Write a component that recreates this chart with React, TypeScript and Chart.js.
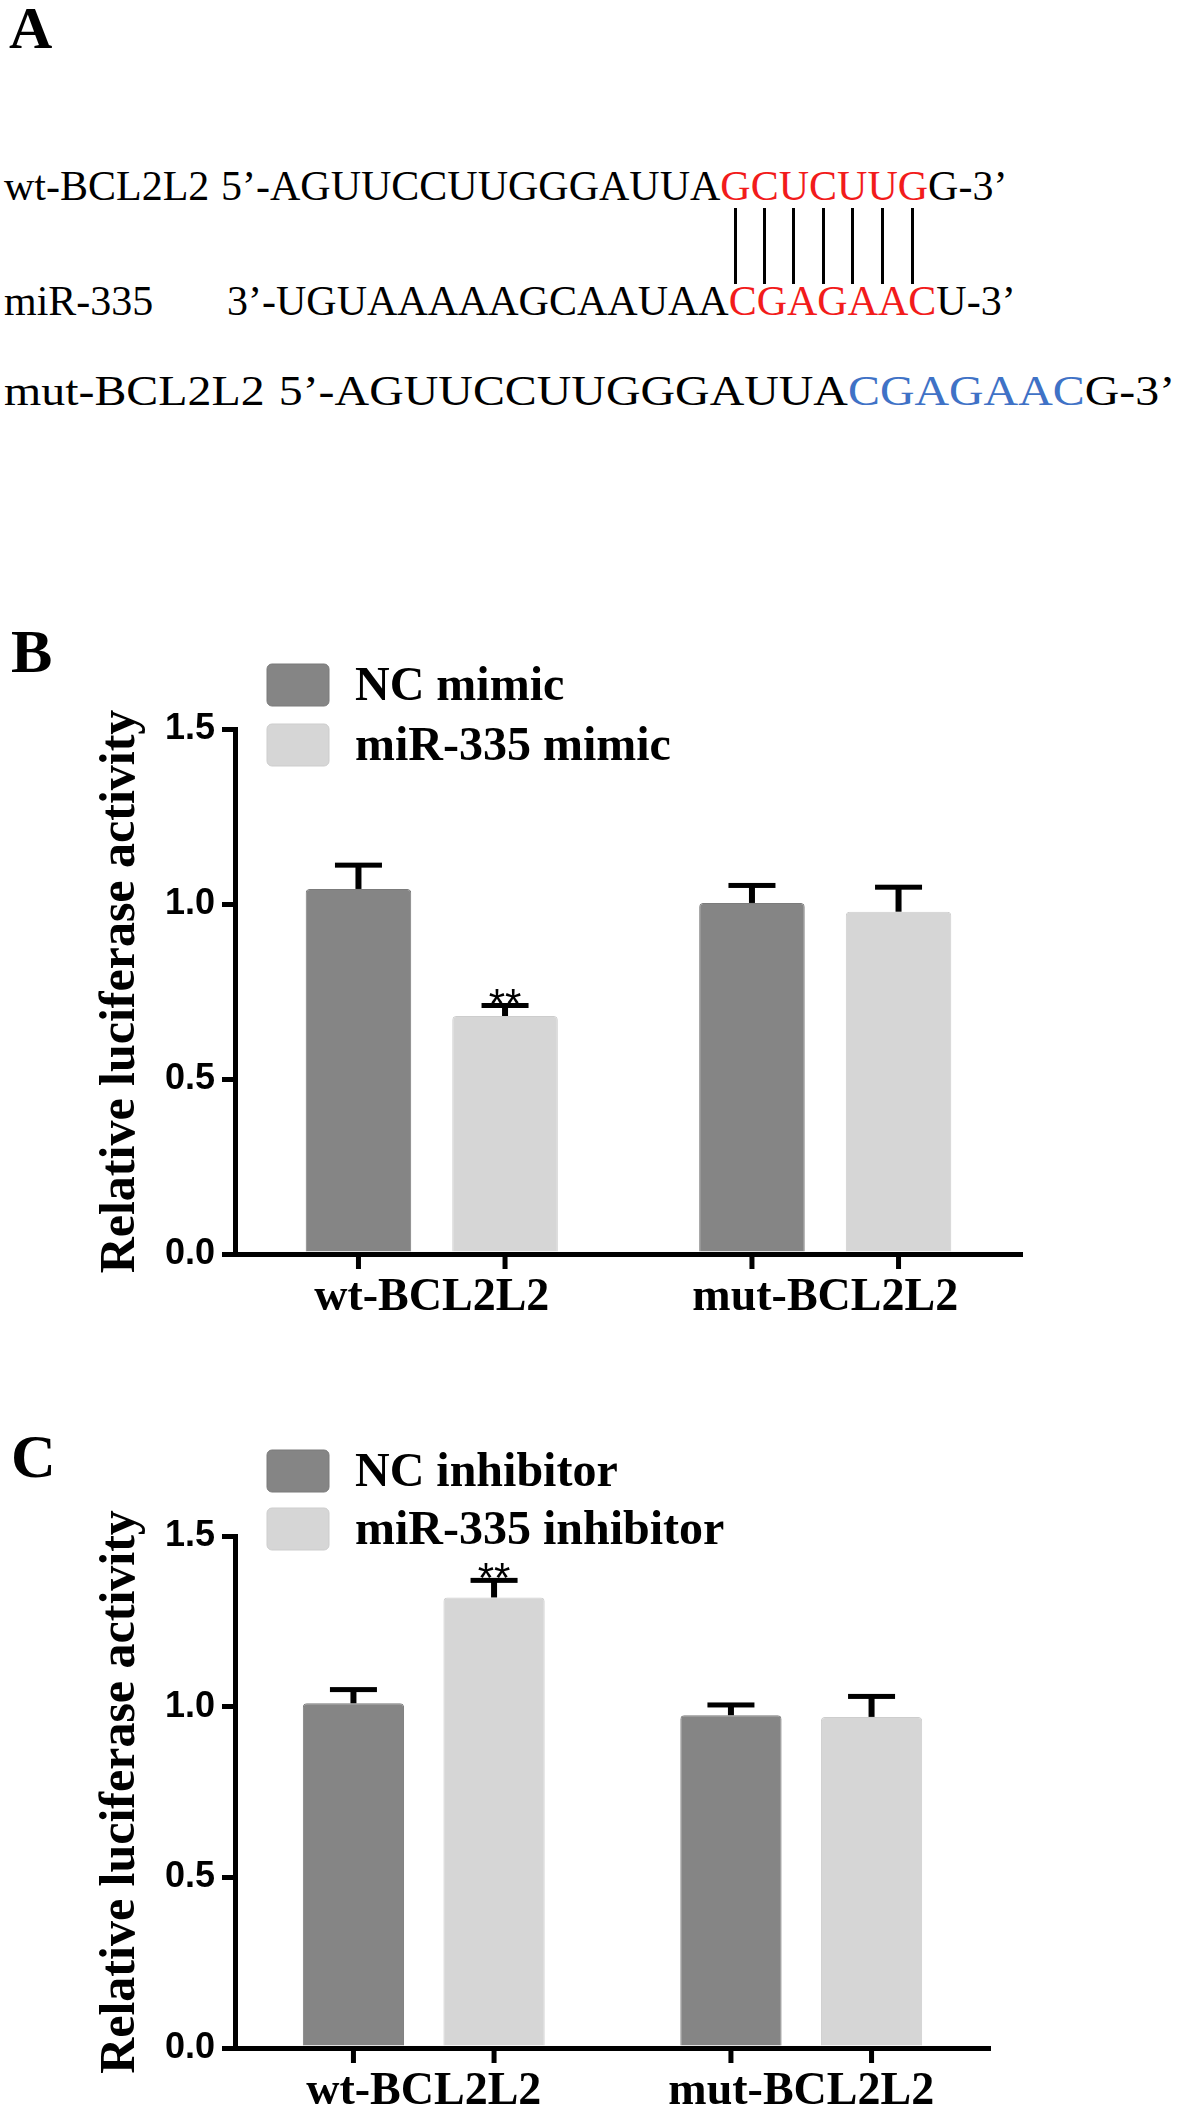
import React, { useEffect, useRef } from "react";
import { Chart, registerables } from "chart.js";

Chart.register(...registerables);

// ---------- data ----------
const categories = ["wt-BCL2L2", "mut-BCL2L2"];
const yTitle = "Relative luciferase activity";
const yTickStep = 0.5;
const yMax = 1.5;

// Panel B (mimic)
const mimicLabels = ["NC mimic", "miR-335 mimic"];
const ncMimic = [1.043, 1.003];
const ncMimicErr = [0.068, 0.05];
const mirMimic = [0.68, 0.978];
const mirMimicErr = [0.03, 0.07];
const ncMimicSig = ["", ""];
const mirMimicSig = ["**", ""];

// Panel C (inhibitor)
const inhibitorLabels = ["NC inhibitor", "miR-335 inhibitor"];
const ncInh = [1.01, 0.975];
const ncInhErr = [0.04, 0.03];
const mirInh = [1.32, 0.97];
const mirInhErr = [0.05, 0.06];
const ncInhSig = ["", ""];
const mirInhSig = ["**", ""];

// Panel A (sequences)
const wtLabel = "wt-BCL2L2";
const wtSeq = ["5\u2019-AGUUCCUUGGGAUUA", "GCUCUUG", "G-3\u2019"];
const mirLabel = "miR-335";
const mirSeq = ["3\u2019-UGUAAAAAGCAAUAA", "CGAGAAC", "U-3\u2019"];
const mutLabel = "mut-BCL2L2";
const mutSeq = ["5\u2019-AGUUCCUUGGGAUUA", "CGAGAAC", "G-3\u2019"];

// ---------- styles ----------
const serif = '"Liberation Serif", "Times New Roman", Times, serif';
const sans = '"Liberation Sans", Arial, Helvetica, sans-serif';
const DARK = "#858585";
const LIGHT = "#d6d6d6";
const DARK_EDGE = "#7b7b7b";
const LIGHT_EDGE = "#cdcdcd";

type PanelProps = {
  top: number;
  height: number;
  padTop: number;
  padRight: number;
  xHeight: number;
  labels: string[];
  s1: number[];
  e1: number[];
  s2: number[];
  e2: number[];
  sig1: string[];
  sig2: string[];
  legendTops: number[];
};

function BarPanel(p: PanelProps) {
  const ref = useRef<HTMLCanvasElement | null>(null);
  useEffect(() => {
    if (!ref.current) return;
    const errs = [p.e1, p.e2];
    const sigs = [p.sig1, p.sig2];
    const decor = {
      id: "decor",
      afterDatasetsDraw(chart: any) {
        const ctx = chart.ctx;
        const ys = chart.scales.y;
        ctx.save();
        ctx.fillStyle = "#000";
        chart.data.datasets.forEach((ds: any, di: number) => {
          const meta = chart.getDatasetMeta(di);
          meta.data.forEach((el: any, i: number) => {
            const v = ds.data[i];
            const top = ys.getPixelForValue(v + errs[di][i]);
            ctx.fillRect(el.x - 3, top, 6, el.y - top);
            ctx.fillRect(el.x - 23.5, top - 2.5, 47, 5);
            const s = sigs[di][i];
            if (s) {
              ctx.font = `42px ${sans}`;
              ctx.textAlign = "center";
              ctx.textBaseline = "alphabetic";
              ctx.fillText(s, el.x, top + 12);
            }
          });
        });
        ctx.restore();
      },
      afterDraw(chart: any) {
        const ctx = chart.ctx;
        const b = chart.chartArea.bottom;
        ctx.save();
        ctx.fillStyle = "#000";
        chart.data.datasets.forEach((_ds: any, di: number) => {
          chart.getDatasetMeta(di).data.forEach((el: any) => {
            ctx.fillRect(el.x - 2.5, b, 5, 15);
          });
        });
        // legend
        chart.data.datasets.forEach((ds: any, di: number) => {
          const t = p.legendTops[di];
          ctx.beginPath();
          (ctx as any).roundRect(267, t, 62, 42, 5);
          ctx.fillStyle = ds.backgroundColor;
          ctx.fill();
          ctx.lineWidth = 1;
          ctx.strokeStyle = ds.borderColor;
          ctx.stroke();
          ctx.fillStyle = "#000";
          ctx.font = `bold 48px ${serif}`;
          ctx.textAlign = "left";
          ctx.textBaseline = "alphabetic";
          ctx.fillText(ds.label, 355, t + 36);
        });
        ctx.restore();
      },
    };
    const chart = new Chart(ref.current, {
      type: "bar",
      data: {
        labels: categories,
        datasets: [
          {
            label: p.labels[0],
            data: p.s1,
            backgroundColor: DARK,
            borderColor: DARK_EDGE,
            borderWidth: 1,
            borderRadius: 4,
            categoryPercentage: 0.745,
            barPercentage: 0.72,
          },
          {
            label: p.labels[1],
            data: p.s2,
            backgroundColor: LIGHT,
            borderColor: LIGHT_EDGE,
            borderWidth: 1,
            borderRadius: 4,
            categoryPercentage: 0.745,
            barPercentage: 0.72,
          },
        ],
      },
      options: {
        responsive: false,
        animation: false,
        devicePixelRatio: 1,
        layout: { padding: { left: 0, right: p.padRight, top: p.padTop, bottom: 0 } },
        plugins: { legend: { display: false }, tooltip: { enabled: false } },
        scales: {
          x: {
            offset: true,
            grid: { display: false, drawTicks: false },
            border: { display: true, width: 5, color: "#000" },
            ticks: {
              color: "#000",
              font: { family: serif, weight: "bold", size: 46 },
              padding: 17,
              maxRotation: 0,
              autoSkip: false,
            },
            afterFit: (s: any) => {
              s.height = p.xHeight;
            },
          },
          y: {
            min: 0,
            max: yMax,
            ticks: {
              stepSize: yTickStep,
              color: "#000",
              font: { family: sans, weight: "bold", size: 36 },
              padding: 7,
              callback: (v: any) => Number(v).toFixed(1),
            },
            grid: {
              display: true,
              drawOnChartArea: false,
              drawTicks: true,
              tickLength: 13,
              tickWidth: 5,
              lineWidth: 5,
              color: "#000",
              tickColor: "#000",
            },
            border: { display: true, width: 5, color: "#000" },
            title: {
              display: true,
              text: yTitle,
              color: "#000",
              font: { family: serif, weight: "bold", size: 50 },
              padding: { top: 91, bottom: 0 },
            },
            afterFit: (s: any) => {
              s.width = 235;
            },
          },
        },
      },
      plugins: [decor as any],
    } as any);
    return () => chart.destroy();
  }, []);
  return (
    <canvas
      ref={ref}
      width={1181}
      height={p.height}
      style={{ position: "absolute", left: 0, top: p.top, width: 1181, height: p.height, display: "block" }}
    />
  );
}

function SeqLine(props: {
  baseline: number;
  label: string;
  seq: string[];
  seqLeft: number;
  color: string;
  pairs?: boolean;
  fontSize: number;
  scaleX?: number;
}) {
  const fs = props.fontSize;
  const mid = props.pairs
    ? props.seq[1].split("").map((ch, i) => (
        <span key={i} style={{ position: "relative" }}>
          {ch}
          <span
            style={{
              position: "absolute",
              left: "50%",
              marginLeft: -1.5,
              top: 45,
              width: 3,
              height: 76,
              background: "#000",
            }}
          />
        </span>
      ))
    : props.seq[1];
  return (
    <div
      style={{
        position: "absolute",
        left: 4,
        top: props.baseline - 0.8375 * fs,
        height: fs,
        width: 1300,
        lineHeight: `${fs}px`,
        fontSize: fs,
        fontFamily: serif,
        whiteSpace: "pre",
        color: "#000",
        transform: props.scaleX ? `scaleX(${props.scaleX})` : undefined,
        transformOrigin: "left top",
      }}
    >
      <span style={{ position: "absolute", left: 0, top: 0 }}>{props.label}</span>
      <span style={{ position: "absolute", left: props.seqLeft - 4, top: 0 }}>
        {props.seq[0]}
        <span style={{ color: props.color }}>{mid}</span>
        {props.seq[2]}
      </span>
    </div>
  );
}

function PanelLetter(props: { text: string; left: number; baseline: number; size: number }) {
  return (
    <div
      style={{
        position: "absolute",
        left: props.left,
        top: props.baseline - 0.8375 * props.size,
        fontSize: props.size,
        lineHeight: `${props.size}px`,
        fontFamily: serif,
        fontWeight: "bold",
        color: "#000",
      }}
    >
      {props.text}
    </div>
  );
}

export default function App() {
  return (
    <div
      style={{
        position: "absolute",
        left: 0,
        top: 0,
        width: 1181,
        height: 2111,
        overflow: "hidden",
        background: "#fff",
      }}
    >
      <PanelLetter text="A" left={9} baseline={48} size={60} />
      <SeqLine baseline={200} label={wtLabel} seq={wtSeq} seqLeft={221} color="#f21b1b" pairs fontSize={42} />
      <SeqLine baseline={315} label={mirLabel} seq={mirSeq} seqLeft={227} color="#f21b1b" fontSize={42} />
      <SeqLine baseline={405} label={mutLabel} seq={mutSeq} seqLeft={245} color="#3f72c6" fontSize={42} scaleX={1.14} />

      <PanelLetter text="B" left={11} baseline={672} size={62} />
      <BarPanel
        top={620}
        height={720}
        padTop={109}
        padRight={159}
        xHeight={86}
        labels={mimicLabels}
        s1={ncMimic}
        e1={ncMimicErr}
        s2={mirMimic}
        e2={mirMimicErr}
        sig1={ncMimicSig}
        sig2={mirMimicSig}
        legendTops={[44, 104]}
      />

      <PanelLetter text="C" left={11} baseline={1477} size={62} />
      <BarPanel
        top={1340}
        height={771}
        padTop={196}
        padRight={191}
        xHeight={63}
        labels={inhibitorLabels}
        s1={ncInh}
        e1={ncInhErr}
        s2={mirInh}
        e2={mirInhErr}
        sig1={ncInhSig}
        sig2={mirInhSig}
        legendTops={[110, 168]}
      />
    </div>
  );
}
